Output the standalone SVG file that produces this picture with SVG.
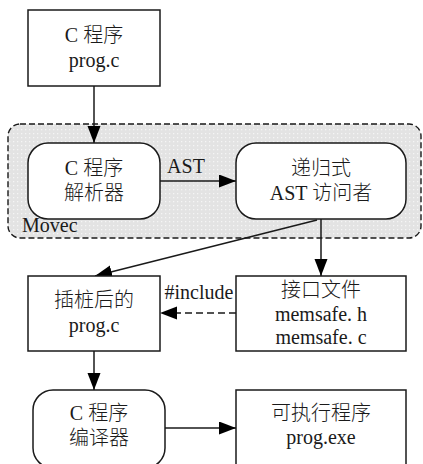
<svg xmlns="http://www.w3.org/2000/svg" width="423" height="464" viewBox="0 0 423 464">
<style>
text{font-family:"Liberation Serif","Noto Sans CJK SC",serif;font-size:20px;font-weight:300;fill:#1a1a1a;text-anchor:middle}
.box{fill:#fff;stroke:#1a1a1a;stroke-width:1.5}
.ln{fill:none;stroke:#1a1a1a;stroke-width:1.5}
</style>
<defs>
<pattern id="dots" width="4" height="4" patternUnits="userSpaceOnUse">
<rect width="4" height="4" fill="#e3e3e3"/>
<rect x="1" y="1" width="1.3" height="1.3" fill="#f5f5f5"/>
</pattern>
<marker id="ah" markerUnits="userSpaceOnUse" markerWidth="18" markerHeight="14" refX="17" refY="6.5" orient="auto">
<path d="M0,0 L17,6.5 L0,13 z" fill="#000"/>
</marker>
</defs>
<g id="movec">
<rect x="8" y="124" width="413" height="114" rx="12" fill="url(#dots)" stroke="#1a1a1a" stroke-width="1.4" stroke-dasharray="6,3"/>
<text x="22" y="232" style="text-anchor:start">Movec</text>
</g>
<g id="connectors">
<line class="ln" x1="94" y1="86" x2="94" y2="143" marker-end="url(#ah)"/>
<line class="ln" x1="160" y1="181" x2="236" y2="181" marker-end="url(#ah)"/>
<line class="ln" x1="321" y1="219" x2="321" y2="276" marker-end="url(#ah)"/>
<line class="ln" x1="317" y1="220" x2="95" y2="276" marker-end="url(#ah)"/>
<line class="ln" x1="236" y1="313" x2="160" y2="313" stroke-dasharray="7,4" marker-end="url(#ah)"/>
<line class="ln" x1="94" y1="351" x2="94" y2="390" marker-end="url(#ah)"/>
<line class="ln" x1="165" y1="428" x2="236" y2="428" marker-end="url(#ah)"/>
<text x="186" y="173">AST</text>
<text x="199" y="299">#include</text>
</g>
<g id="src">
<rect class="box" x="28" y="10" width="132" height="76"/>
<text x="94" y="42">C 程序</text>
<text x="94" y="67">prog.c</text>
</g>
<g id="parser">
<rect class="box" x="28" y="143" width="132" height="76" rx="20"/>
<text x="94" y="175">C 程序</text>
<text x="94" y="200">解析器</text>
</g>
<g id="visitor">
<rect class="box" x="236" y="143" width="170" height="76" rx="20"/>
<text x="321" y="175">递归式</text>
<text x="321" y="200">AST 访问者</text>
</g>
<g id="instrumented">
<rect class="box" x="28" y="276" width="132" height="75"/>
<text x="94" y="307">插桩后的</text>
<text x="94" y="332">prog.c</text>
</g>
<g id="iface">
<rect class="box" x="236" y="276" width="170" height="75"/>
<text x="321" y="297">接口文件</text>
<text x="321" y="321">memsafe. h</text>
<text x="321" y="344">memsafe. c</text>
</g>
<g id="compiler">
<rect class="box" x="33" y="390" width="132" height="78" rx="20"/>
<text x="99" y="420">C 程序</text>
<text x="99" y="445">编译器</text>
</g>
<g id="exe">
<rect class="box" x="236" y="390" width="170" height="78"/>
<text x="321" y="420">可执行程序</text>
<text x="321" y="444">prog.exe</text>
</g>
</svg>
